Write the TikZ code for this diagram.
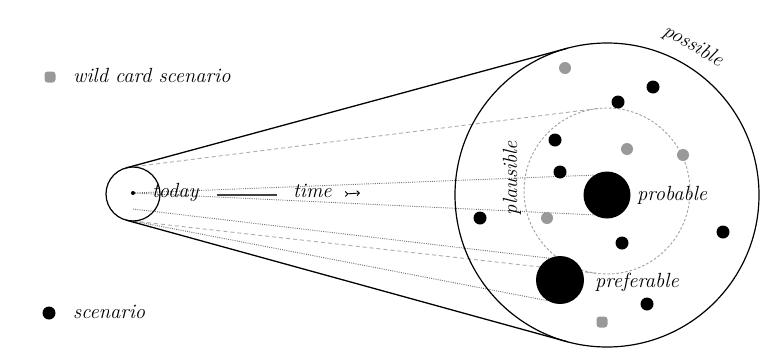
\documentclass[tikz,border=0pt]{standalone}
\usepackage{xcolor}
\usetikzlibrary{arrows.meta, backgrounds}

\definecolor{wildgray}{gray}{0.6}
\definecolor{fangray}{gray}{0.45}

\begin{document}
\begin{tikzpicture}[
  x=1pt, y=-1pt,
  ring/.style={draw, circle, inner sep=0pt, outer sep=0pt, line width=1.2pt},
  zone/.style={draw=gray!75, circle, inner sep=0pt, outer sep=0pt,
    line width=0.9pt, dash pattern=on 2.5pt off 2pt},
  dot/.style={circle, fill=black, inner sep=0pt, outer sep=0pt, minimum size=13pt},
  bigdot/.style={dot, minimum size=47pt},
  wild/.style={circle, fill=wildgray, inner sep=0pt, outer sep=0pt, minimum size=12pt},
  wildsq/.style={rectangle, rounded corners=3pt, fill=wildgray, inner sep=0pt,
    minimum size=11pt},
  fan/.style={draw=fangray, line width=0.9pt, dash pattern=on 1pt off 1.2pt},
  fandash/.style={draw=gray!65, line width=0.9pt, dash pattern=on 4pt off 3pt},
  edge/.style={line width=1.3pt},
  rule/.style={draw=gray!50!black, line width=1.6pt},
  lab/.style={font=\fontsize{20.5}{24}\selectfont\itshape, inner sep=0pt}
]
  \useasboundingbox (0,0) rectangle (773,359);

  \node[ring, minimum size=54pt] (now) at (133,194) {};
  \node[ring, minimum size=304pt] (futures) at (607,195) {};
  \node[zone, minimum size=166pt] (plaus) at (607,191) {};
  \node[dot, minimum size=4pt] (todaydot) at (133,193) {};
  \coordinate (lowstart) at (133,209);
  \coordinate (timeend) at (360,193);

  \draw[edge] (now.105.3) -- (futures.105.3);
  \draw[edge] (now.-105.3) -- (futures.-105.3);

  \node[bigdot] (probable) at (607,195) {};
  \node[bigdot, minimum size=48pt] (preferable) at (560,280) {};

  \node[dot] (s1) at (653,87) {};
  \node[dot] (s2) at (618,102) {};
  \node[dot] (s3) at (555,140) {};
  \node[dot] (s4) at (560,172) {};
  \node[dot] (s5) at (480,218) {};
  \node[dot] (s6) at (622,243) {};
  \node[dot] (s7) at (723,232) {};
  \node[dot] (s8) at (647,304) {};

  \node[wild] (w1) at (565,68) {};
  \node[wild] (w2) at (627,149) {};
  \node[wild] (w3) at (683,155) {};
  \node[wild] (w4) at (547,218) {};
  \node[wildsq] (w5) at (602,322) {};

  \node[wildsq] (keywild) at (50,77) {};
  \node[dot] (keydot) at (49,313) {};
  \node[lab, anchor=base west] (keywildlab) at (73,82) {wild card scenario};
  \node[lab, anchor=base west] (keydotlab) at (73,318) {scenario};

  \node[lab, anchor=base west] (today) at (152,197) {today};
  \node[lab, anchor=base west] (time) at (293,197) {time};
  \node[lab, anchor=base west] (problab) at (637,200) {probable};
  \node[lab, anchor=base west] (preflab) at (595,287) {preferable};
  \node[lab, rotate=90, anchor=base] (plauslab) at (517,178) {plausible};
  \node[lab, rotate=-30] (posslab) at (693,46) {possible};

  \draw[rule, shorten <=18pt, shorten >=16pt] (today.mid east) -- (time.mid west);
  \draw[line width=0.9pt, {Straight Barb[reversed, length=2.5pt]}-{Straight Barb[length=2.5pt]},
    shorten <=13pt] (time.mid east) -- (timeend);

  \begin{scope}[on background layer]
    \draw[fandash] (now.100) -- (plaus.97);
    \draw[fan] (todaydot.center) -- (probable.122);
    \draw[fan] (todaydot.center) -- (probable.238);
    \draw[fan] (lowstart) -- (preferable.115);
    \draw[fandash] (now.south) -- (plaus.-96);
    \draw[fan] (now.south) -- (preferable.240);
  \end{scope}
\end{tikzpicture}
\end{document}
